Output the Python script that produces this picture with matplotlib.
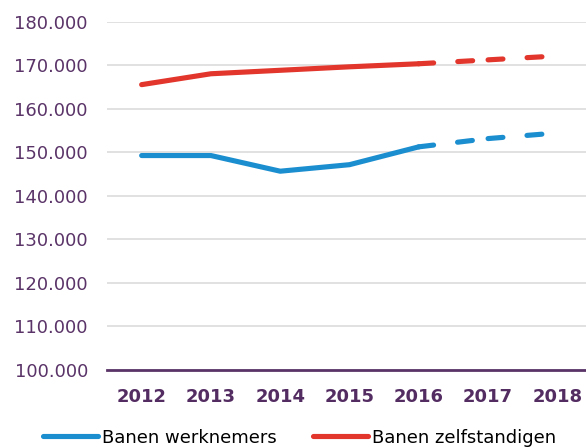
import matplotlib
matplotlib.use("Agg")
import matplotlib.pyplot as plt
from matplotlib.ticker import FuncFormatter, MultipleLocator

years = ["2012", "2013", "2014", "2015", "2016", "2017", "2018"]
werknemers = [149300, 149300, 145700, 147200, 151300, 153200, 154500]
zelfstandigen = [165600, 168100, 168900, 169700, 170400, 171300, 172200]
series_names = ["Banen werknemers", "Banen zelfstandigen"]
last_actual = 4  # index of 2016; later years are forecasts

BLUE = "#1B8ED0"
RED = "#E2352B"
PURPLE = "#5A3468"
XPURPLE = "#532C62"
GRID = "#D9D9D9"

fig = plt.figure(figsize=(5.86, 4.47), dpi=100)
ax = fig.add_axes([107 / 586, 1 - 370 / 447, 485 / 586, 348 / 447])

x = list(range(len(years)))
lw = 3.7
handles = []
for vals, col, name in [(werknemers, BLUE, series_names[0]), (zelfstandigen, RED, series_names[1])]:
    h, = ax.plot(x[:last_actual + 1], vals[:last_actual + 1], color=col, lw=lw,
                 solid_capstyle="round", solid_joinstyle="round", label=name, zorder=3)
    handles.append(h)
    for i in range(last_actual, len(years) - 1):
        ax.plot(x[i:i + 2], vals[i:i + 2], color=col, lw=lw, dashes=(2.9, 4.7),
                dash_capstyle="round", zorder=3)

ax.set_xlim(-0.5, len(years) - 0.5)
ax.set_ylim(100000, 180000)
ax.yaxis.set_major_locator(MultipleLocator(10000))
ax.yaxis.set_major_formatter(FuncFormatter(lambda v, p: f"{int(v):,}".replace(",", ".")))
ax.set_xticks(x)
ax.set_xticklabels(years)

ax.grid(axis="y", color=GRID, lw=1.1, zorder=0)
for s in ["top", "right", "left"]:
    ax.spines[s].set_visible(False)
ax.spines["bottom"].set_color(PURPLE)
ax.spines["bottom"].set_linewidth(2.0)
ax.spines["bottom"].set_zorder(4)

ax.tick_params(axis="y", length=0, pad=13.7, labelsize=13, labelcolor=PURPLE)
ax.tick_params(axis="x", length=0, pad=13, labelsize=13, labelcolor=XPURPLE)
for t in ax.get_xticklabels():
    t.set_fontweight("bold")

fig.legend(handles=handles, loc="center left", bbox_to_anchor=(43 / 586, 1 - 437.7 / 447),
           bbox_transform=fig.transFigure, ncol=2, frameon=False, fontsize=13,
           handlelength=3.05, handletextpad=0.22, columnspacing=2.0, borderpad=0,
           borderaxespad=0)

fig.savefig("out.png", dpi=100)
